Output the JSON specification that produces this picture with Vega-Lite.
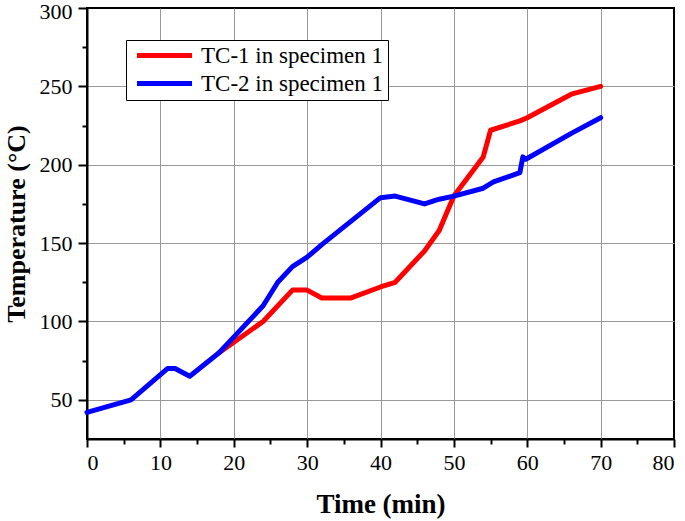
{
  "$schema": "https://vega.github.io/schema/vega-lite/v6.json",
  "width": 587,
  "height": 431,
  "autosize": {"type": "none"},
  "padding": {"left": 87, "top": 8, "right": 11, "bottom": 82},
  "background": "white",
  "data": {
    "values": [
      {"time": 18, "temp": 80, "series": "TC-1 in specimen 1"},
      {"time": 24, "temp": 100, "series": "TC-1 in specimen 1"},
      {"time": 28, "temp": 120, "series": "TC-1 in specimen 1"},
      {"time": 30, "temp": 120, "series": "TC-1 in specimen 1"},
      {"time": 32, "temp": 115, "series": "TC-1 in specimen 1"},
      {"time": 36, "temp": 115, "series": "TC-1 in specimen 1"},
      {"time": 40, "temp": 122, "series": "TC-1 in specimen 1"},
      {"time": 42, "temp": 125, "series": "TC-1 in specimen 1"},
      {"time": 46, "temp": 145, "series": "TC-1 in specimen 1"},
      {"time": 48, "temp": 158, "series": "TC-1 in specimen 1"},
      {"time": 50, "temp": 180, "series": "TC-1 in specimen 1"},
      {"time": 54, "temp": 205, "series": "TC-1 in specimen 1"},
      {"time": 55, "temp": 222, "series": "TC-1 in specimen 1"},
      {"time": 59, "temp": 228, "series": "TC-1 in specimen 1"},
      {"time": 60, "temp": 230, "series": "TC-1 in specimen 1"},
      {"time": 66, "temp": 245, "series": "TC-1 in specimen 1"},
      {"time": 70, "temp": 250, "series": "TC-1 in specimen 1"},
      {"time": 0, "temp": 42, "series": "TC-2 in specimen 1"},
      {"time": 6, "temp": 50, "series": "TC-2 in specimen 1"},
      {"time": 11, "temp": 70, "series": "TC-2 in specimen 1"},
      {"time": 12, "temp": 70, "series": "TC-2 in specimen 1"},
      {"time": 14, "temp": 65, "series": "TC-2 in specimen 1"},
      {"time": 18, "temp": 80, "series": "TC-2 in specimen 1"},
      {"time": 20, "temp": 90, "series": "TC-2 in specimen 1"},
      {"time": 24, "temp": 110, "series": "TC-2 in specimen 1"},
      {"time": 26, "temp": 125, "series": "TC-2 in specimen 1"},
      {"time": 28, "temp": 135, "series": "TC-2 in specimen 1"},
      {"time": 30, "temp": 141, "series": "TC-2 in specimen 1"},
      {"time": 32, "temp": 149, "series": "TC-2 in specimen 1"},
      {"time": 36, "temp": 164, "series": "TC-2 in specimen 1"},
      {"time": 40, "temp": 179, "series": "TC-2 in specimen 1"},
      {"time": 42, "temp": 180, "series": "TC-2 in specimen 1"},
      {"time": 46, "temp": 175, "series": "TC-2 in specimen 1"},
      {"time": 48, "temp": 178, "series": "TC-2 in specimen 1"},
      {"time": 50, "temp": 180, "series": "TC-2 in specimen 1"},
      {"time": 54, "temp": 185, "series": "TC-2 in specimen 1"},
      {"time": 55.4, "temp": 189, "series": "TC-2 in specimen 1"},
      {"time": 59, "temp": 195, "series": "TC-2 in specimen 1"},
      {"time": 59.4, "temp": 205, "series": "TC-2 in specimen 1"},
      {"time": 59.8, "temp": 203.5, "series": "TC-2 in specimen 1"},
      {"time": 66, "temp": 220, "series": "TC-2 in specimen 1"},
      {"time": 70, "temp": 230, "series": "TC-2 in specimen 1"}
    ]
  },
  "mark": {"type": "line", "strokeWidth": 5, "strokeCap": "round", "strokeJoin": "round"},
  "encoding": {
    "x": {
      "field": "time",
      "type": "quantitative",
      "scale": {"domain": [0, 80], "nice": false, "zero": false},
      "axis": {
        "title": "Time (min)",
        "values": [0, 5, 10, 15, 20, 25, 30, 35, 40, 45, 50, 55, 60, 65, 70, 75, 80],
        "labelExpr": "datum.value % 10 === 0 ? datum.label : ''",
        "labelFont": "Liberation Serif",
        "labelFontSize": 22,
        "labelPadding": 5,
        "tickSize": {"condition": {"test": "datum.value % 10 === 0", "value": 8}, "value": 5},
        "gridOpacity": {"condition": {"test": "datum.value % 10 === 0 && datum.value > 0 && datum.value < 80", "value": 1}, "value": 0},
        "titlePadding": 18
      }
    },
    "y": {
      "field": "temp",
      "type": "quantitative",
      "scale": {"domain": [25, 300], "nice": false, "zero": false},
      "axis": {
        "title": "Temperature (°C)",
        "titleFontSize": 26,
        "values": [75, 50, 100, 125, 150, 175, 200, 225, 250, 275, 300],
        "labelExpr": "datum.value % 50 === 0 ? datum.label : ''",
        "labelFont": "Liberation Serif",
        "labelFontSize": 22,
        "labelPadding": 6,
        "labelOffset": {"condition": {"test": "datum.value === 300", "value": 3}, "value": 0},
        "tickSize": {"condition": {"test": "datum.value % 50 === 0", "value": 9}, "value": 5},
        "gridOpacity": {"condition": {"test": "datum.value % 50 === 0 && datum.value < 300", "value": 1}, "value": 0},
        "titlePadding": 10
      }
    },
    "color": {
      "field": "series",
      "type": "nominal",
      "scale": {"domain": ["TC-1 in specimen 1", "TC-2 in specimen 1"], "range": ["#ff0000", "#0000ff"]},
      "legend": {
        "title": null,
        "orient": "none",
        "legendX": 39,
        "legendY": 32,
        "symbolType": "M-5,0H5",
        "symbolSize": 121,
        "symbolStrokeWidth": 5,
        "symbolOffset": 23,
        "labelFont": "Liberation Serif",
        "labelFontSize": 23,
        "labelColor": "black",
        "labelOffset": 25,
        "labelLimit": 400,
        "strokeColor": "black",
        "fillColor": "white",
        "padding": 4,
        "rowPadding": 4
      }
    }
  },
  "config": {
    "view": {"stroke": "black", "strokeWidth": 2},
    "axis": {
      "domainColor": "black",
      "domainWidth": 2,
      "tickColor": "black",
      "tickWidth": 2,
      "grid": true,
      "gridColor": "#999999",
      "gridWidth": 1,
      "labelColor": "black",
      "titleFont": "Liberation Serif",
      "titleFontSize": 27,
      "titleFontWeight": "bold",
      "titleColor": "black"
    }
  }
}
